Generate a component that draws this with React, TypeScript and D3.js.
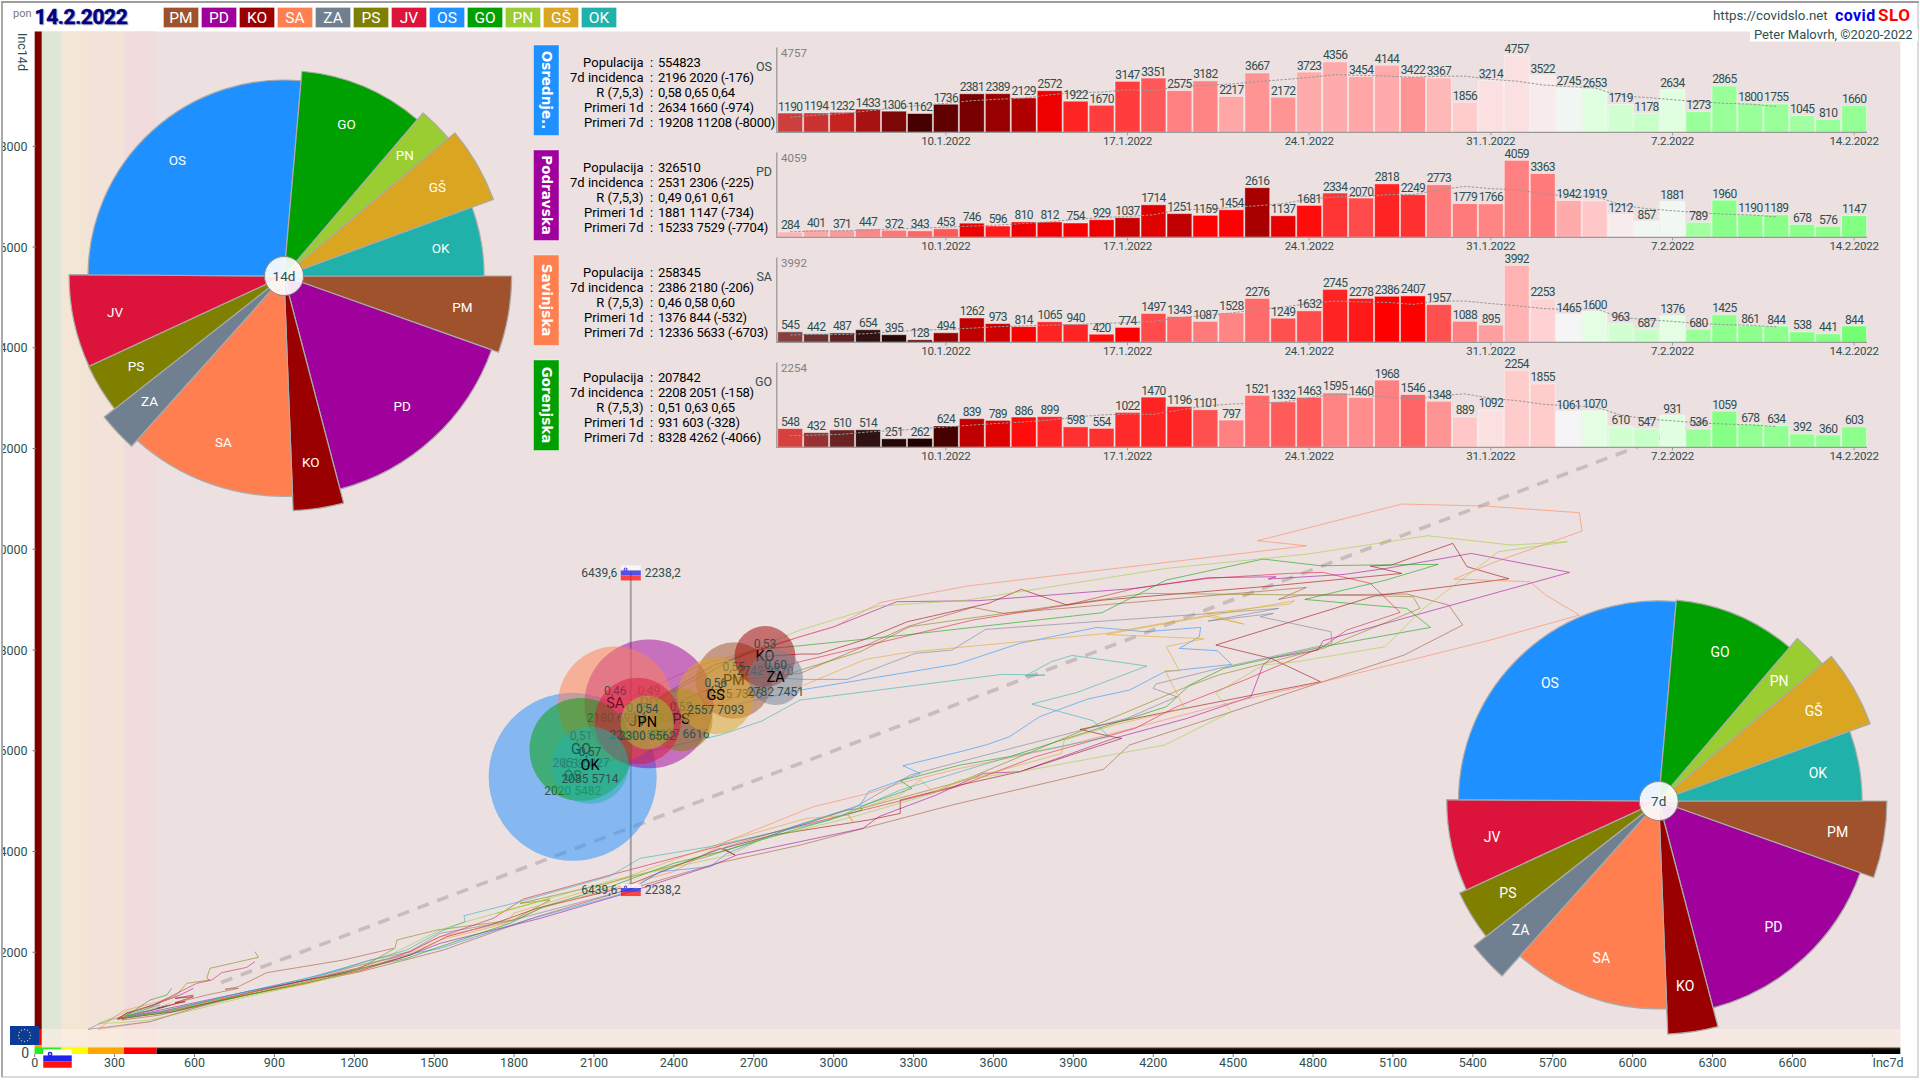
import React from "react";
import * as d3 from "d3";

const codes = ["PM", "PD", "KO", "SA", "ZA", "PS", "JV", "OS", "GO", "PN", "GŠ", "OK"];
const colors = ["#a0522d", "#a0009b", "#9b0000", "#ff7f50", "#708090", "#808000", "#dc143c", "#1e90ff", "#00a000", "#9acd32", "#daa520", "#20b2aa"];
const population = [114800, 326510, 73200, 258345, 59000, 77900, 147600, 554823, 207842, 56200, 116500, 117700];
const inc7 = [2625, 2306, 2742, 2180, 2782, 2427, 2264, 2020, 2051, 2300, 2557, 2085];
const inc14 = [7395, 6930, 7870, 6930, 7451, 6616, 6590, 5482, 6027, 6562, 7093, 5714];
const rValues = ["0,55", "0,49", "0,53", "0,46", "0,60", "0,52", "0,55", "0,58", "0,51", "0,54", "0,56", "0,57"];
const bubbleOrder = ["OS", "PD", "SA", "GO", "PS", "JV", "OK", "PM", "GŠ", "KO", "ZA", "PN"];

const xTicks = [0, 300, 600, 900, 1200, 1500, 1800, 2100, 2400, 2700, 3000, 3300, 3600, 3900, 4200, 4500, 4800, 5100, 5400, 5700, 6000, 6300, 6600];
const yTicks = [0, 2000, 4000, 6000, 8000, 10000, 12000, 14000, 16000, 18000];
const xBands = [0, 26, 100, 200, 335, 458];
const xBandTints = ["#dfe6d6", "#f3e6d4", "#f2e2d7", "#f0dcdc"];
const xStrip = ["#22ee22", "#ffff00", "#ffa500", "#ff0000", "#000000"];
const yStripBreaks = [0, 60, 160, 476, 20000];
const yStrip = ["#33ee00", "#ffa500", "#ff0000", "#800000"];

const panelNames = ["Osrednje..", "Podravska", "Savinjska", "Gorenjska"];
const panelCodes = ["OS", "PD", "SA", "GO"];
const panelColors = ["#1e90ff", "#a0009b", "#ff7f50", "#00a000"];
const infoLabels = ["Populacija", "7d incidenca", "R (7,5,3)", "Primeri 1d", "Primeri 7d"];
const infoOS = ["554823", "2196 2020 (-176)", "0,58 0,65 0,64", "2634 1660 (-974)", "19208 11208 (-8000)"];
const infoPD = ["326510", "2531 2306 (-225)", "0,49 0,61 0,61", "1881 1147 (-734)", "15233 7529 (-7704)"];
const infoSA = ["258345", "2386 2180 (-206)", "0,46 0,58 0,60", "1376 844 (-532)", "12336 5633 (-6703)"];
const infoGO = ["207842", "2208 2051 (-158)", "0,51 0,63 0,65", "931 603 (-328)", "8328 4262 (-4066)"];

const casesOS = [1190, 1194, 1232, 1433, 1306, 1162, 1736, 2381, 2389, 2129, 2572, 1922, 1670, 3147, 3351, 2575, 3182, 2217, 3667, 2172, 3723, 4356, 3454, 4144, 3422, 3367, 1856, 3214, 4757, 3522, 2745, 2653, 1719, 1178, 2634, 1273, 2865, 1800, 1755, 1045, 810, 1660];
const casesPD = [284, 401, 371, 447, 372, 343, 453, 746, 596, 810, 812, 754, 929, 1037, 1714, 1251, 1159, 1454, 2616, 1137, 1681, 2334, 2070, 2818, 2249, 2773, 1779, 1766, 4059, 3363, 1942, 1919, 1212, 857, 1881, 789, 1960, 1190, 1189, 678, 576, 1147];
const casesSA = [545, 442, 487, 654, 395, 128, 494, 1262, 973, 814, 1065, 940, 420, 774, 1497, 1343, 1087, 1528, 2276, 1249, 1632, 2745, 2278, 2386, 2407, 1957, 1088, 895, 3992, 2253, 1465, 1600, 963, 687, 1376, 680, 1425, 861, 844, 538, 441, 844];
const casesGO = [548, 432, 510, 514, 251, 262, 624, 839, 789, 886, 899, 598, 554, 1022, 1470, 1196, 1101, 797, 1521, 1332, 1463, 1595, 1460, 1968, 1546, 1348, 889, 1092, 2254, 1855, 1061, 1070, 610, 547, 931, 536, 1059, 678, 634, 392, 360, 603];
const priorOS = [380, 480, 580];
const priorPD = [160, 190, 212];
const priorSA = [150, 170, 200];
const priorGO = [110, 120, 146];

const growthOS = [2.4, 2.4, 2.4, 2.6, 2.85, 3.2, 3.0, 2.85, 2.65, 2.5, 2.1, 1.85, 1.75, 1.75, 1.65, 1.5, 1.48, 1.35, 1.42, 1.42, 1.33, 1.33, 1.35, 1.33, 1.42, 1.28, 1.2, 1.1, 1.1, 1.05, 0.98, 0.85, 0.82, 0.8, 0.85, 0.7, 0.7, 0.7, 0.7, 0.72, 0.7, 0.68];
const growthPD = [1.35, 1.4, 1.45, 1.5, 1.55, 1.6, 1.65, 2.1, 1.9, 2.1, 2.1, 2.05, 2.1, 2.35, 2.2, 2.4, 2.0, 2.0, 2.55, 2.15, 1.95, 1.78, 1.7, 1.85, 1.8, 1.52, 1.52, 1.48, 1.5, 1.52, 1.33, 1.22, 1.05, 0.98, 0.97, 0.72, 0.64, 0.64, 0.64, 0.64, 0.64, 0.6];
const growthSA = [3.0, 3.2, 3.2, 3.5, 3.6, 3.0, 2.65, 2.4, 2.3, 2.05, 1.85, 1.85, 1.95, 2.0, 1.7, 1.6, 1.52, 1.48, 1.58, 1.68, 1.7, 1.85, 1.9, 2.0, 2.0, 1.68, 1.5, 1.38, 1.3, 1.17, 1.0, 0.87, 0.82, 0.79, 0.87, 0.7, 0.65, 0.65, 0.65, 0.62, 0.62, 0.55];
const growthGO = [2.3, 2.8, 3.1, 3.5, 3.6, 3.6, 3.2, 2.4, 2.2, 1.95, 1.85, 1.8, 1.8, 1.82, 1.85, 1.85, 1.68, 1.5, 1.58, 1.64, 1.64, 1.48, 1.45, 1.5, 1.6, 1.42, 1.22, 1.1, 1.2, 1.2, 1.0, 0.87, 0.82, 0.8, 0.85, 0.7, 0.62, 0.67, 0.67, 0.67, 0.67, 0.65];
const growthDomain = [0.5, 0.7, 0.85, 1, 1.2, 1.5, 1.8, 2, 2.5, 3, 3.5];
const growthRange = ["#66ff66", "#99ff99", "#e0ffe0", "#f5f5f5", "#ffcccc", "#ff8080", "#ff3030", "#ff0000", "#b00000", "#600000", "#200000"];
const startFade = [0.72, 0.78, 0.85, 0.92, 0.97];
const dateTicks = [[6, "10.1.2022"], [13, "17.1.2022"], [20, "24.1.2022"], [27, "31.1.2022"], [34, "7.2.2022"], [41, "14.2.2022"]] as const;

const trackPM = [[1347,2078],[1159,1846],[871,1594],[765,1317],[715,1264],[765,1283],[646,1151],[571,1052],[471,886],[358,754],[327,655],[471,754],[796,1151],[1009,1383],[1222,1614],[1535,2044],[1885,2706],[2561,3765],[2874,4128],[3444,4922],[4013,5630],[4111,6114],[4494,6775],[5142,7900],[5362,8496],[5309,8893],[5152,9111],[4759,9091],[4671,9005],[4775,9243],[4151,8959],[3640,8727],[3522,8846],[3277,8463],[3110,8065],[2874,7536],[2625,7395]];
const trackPD = [[596,1283],[546,1151],[446,953],[345,787],[308,668],[471,853],[796,1217],[1021,1449],[1209,1647],[1410,1945],[1522,2177],[1898,2673],[2198,3136],[2549,3732],[2636,3930],[3110,4459],[3169,4691],[3385,5121],[3561,5551],[3699,5584],[4052,6246],[4327,6643],[4567,7073],[4612,7702],[4642,7834],[4818,8000],[4838,8185],[5763,9541],[5394,9918],[5074,9620],[4917,9501],[4632,9409],[4661,9455],[4406,9435],[4131,9223],[3542,8979],[3237,8959],[3002,8463],[2874,8264],[2550,7700],[2306,6930]];
const trackKO = [[596,1151],[527,1085],[596,1118],[527,999],[565,1019],[458,886],[496,933],[439,853],[345,734],[327,688],[521,820],[796,1184],[1021,1449],[1209,1614],[1410,1945],[1547,2309],[1710,2541],[1885,2871],[2198,3269],[2574,4063],[2630,3930],[2586,4063],[2774,4327],[3131,4625],[3250,4757],[3250,5022],[3475,5320],[3699,5584],[4082,6246],[4033,6292],[3925,6424],[4288,6808],[4828,7371],[4642,7834],[4435,8099],[5034,9078],[5535,9415],[5378,9654],[5325,10117],[5093,9687],[5015,9667],[5133,9521],[4642,9270],[4013,8992],[3876,8893],[3705,9204],[3581,8926],[3277,8562],[3110,8198],[2943,7920],[2874,7920],[2742,7870]];
const trackSA = [[533,1118],[433,972],[333,840],[283,655],[239,470],[433,622],[596,886],[796,1151],[1021,1383],[1209,1614],[1347,1879],[1522,2309],[1785,2607],[1898,2871],[2398,3599],[2611,4228],[2924,4890],[3131,5154],[3247,5353],[3475,5651],[3856,6080],[4504,6974],[4838,7371],[5466,8198],[5800,8694],[5673,9091],[5614,9356],[5329,9409],[5486,9753],[5810,10362],[5800,10726],[5447,10858],[5133,10898],[4592,10170],[4775,10070],[3502,9270],[3178,8946],[3002,8463],[2874,8264],[2500,7700],[2180,6930]];
const trackZA = [[471,953],[383,820],[283,655],[233,556],[201,470],[433,622],[596,886],[796,1184],[1021,1449],[1259,1846],[1410,2011],[1522,2375],[1772,2607],[2248,3269],[2348,3599],[2599,4096],[3074,4857],[3287,5518],[3475,5783],[4101,6643],[4288,7073],[4200,7238],[4210,7324],[4445,7635],[4871,8132],[4867,8363],[4602,8661],[4651,8727],[4406,8575],[4671,8826],[4367,8707],[3571,8410],[3444,7999],[3306,7933],[3051,7417],[2874,7417],[2782,7451]];
const trackPS = [[827,2011],[840,1899],[658,1681],[646,1482],[658,1449],[571,1383],[533,1151],[446,953],[345,787],[314,668],[471,800],[796,1151],[1021,1383],[1209,1647],[1353,2078],[1360,2243],[1510,2441],[1797,2640],[1935,3037],[1822,2971],[2148,3368],[2524,3897],[3049,4823],[3106,4857],[3475,5386],[4327,7272],[4445,7503],[4838,8032],[5201,8826],[5176,9058],[5034,9078],[4170,9124],[3640,8727],[3286,8463],[3100,7966],[2874,7602],[2427,6616]];
const trackJV = [[827,1813],[796,1700],[702,1594],[665,1449],[608,1383],[521,1151],[446,953],[345,787],[314,688],[471,820],[796,1184],[1021,1449],[1209,1681],[1410,2011],[1522,2309],[1722,2673],[1835,3057],[2161,3533],[2586,4129],[3112,4823],[3463,5286],[3758,5882],[4131,6444],[4288,6874],[4543,7404],[4838,8066],[4926,8396],[5127,8747],[5015,9323],[4838,9541],[4710,9521],[4406,9422],[4131,9223],[3876,8893],[3522,8595],[2874,7768],[2600,7400],[2264,6590]];
const trackOS = [[508,953],[396,787],[339,701],[471,807],[796,1217],[1021,1482],[1222,1747],[1410,1965],[1522,2077],[1848,2640],[2211,3169],[2348,3599],[2536,3699],[2599,3963],[2849,4493],[3100,4923],[3131,5187],[3325,5551],[3260,5703],[3475,5981],[3571,6114],[3660,6279],[3773,6676],[3954,7027],[4111,7205],[4243,7569],[4494,7715],[4441,7986],[4298,8032],[4373,8264],[4378,8449],[4170,8363],[3988,8449],[3699,8132],[3463,7721],[2874,7205],[2700,7000],[2450,6650],[2250,6000],[2020,5482]];
const trackGO = [[514,1283],[496,1151],[433,1052],[358,787],[333,708],[471,787],[796,1151],[1021,1416],[1222,1681],[1397,1879],[1522,2110],[1785,2574],[1910,2905],[2161,3302],[2398,3765],[2599,4029],[3106,4823],[3100,4890],[3294,5254],[3250,5406],[3475,5717],[3660,5882],[4249,6874],[4337,7305],[4465,7635],[4838,8066],[5241,8449],[5152,8826],[4769,9005],[5074,9389],[5270,9700],[5015,9687],[4828,9673],[4612,9806],[4249,9389],[4007,8740],[3267,8297],[2874,8085],[2700,8000],[2600,7750],[2300,6900],[2051,6027]];
const trackPN = [[446,920],[345,820],[295,708],[239,589],[320,602],[433,655],[596,853],[796,1118],[1021,1370],[1209,1614],[1522,2441],[1597,2574],[1935,3070],[1735,2772],[2173,3434],[2611,3930],[2724,4228],[3074,4691],[3375,5154],[3475,5419],[3699,5584],[4243,6114],[4494,6775],[4435,7139],[4612,7702],[4740,7768],[5070,8066],[5207,8793],[5496,9951],[5755,10150],[5545,10084],[5231,10269],[4779,9905],[4249,9620],[3502,8992],[3169,8873],[2874,8396],[2600,7800],[2300,6562]];
const trackGS = [[508,986],[408,820],[333,708],[471,800],[796,1184],[1021,1416],[1197,1714],[1397,1945],[1522,2243],[1772,2574],[1797,2772],[2123,3302],[2398,3831],[2611,4228],[2899,4658],[3056,4724],[3072,4592],[3049,4757],[3250,5121],[3325,5419],[3375,5187],[3475,5386],[3856,5948],[3866,6213],[4052,6510],[4318,6841],[4245,7589],[4298,7589],[4249,8066],[4390,8224],[4023,8310],[4730,8979],[4710,8913],[4396,8727],[4540,8515],[4396,8681],[4023,8330],[3277,7953],[3119,7814],[2874,7271],[2557,7093]];
const trackOK = [[471,986],[396,820],[345,721],[471,820],[796,1217],[1021,1482],[1222,1780],[1397,2044],[1522,2408],[1616,2607],[1612,2726],[1797,2971],[2161,3513],[2273,3864],[2536,4096],[2987,4625],[3250,5220],[3475,5584],[3660,5882],[4033,6279],[3974,6597],[3744,6927],[3915,7159],[4176,7682],[3895,7893],[3817,7768],[3719,7483],[3793,7503],[3630,7516],[2874,7007],[2730,6590],[2574,6313],[2085,5714]];

const meanInc7 = 2238.2;
const meanLabelA = "6439,6";
const meanLabelB = "2238,2";
const flagTopInc14 = 9530;
const flagBottomInc14 = 3235;
const diagonalEnds = [700, 6300];
const diagonalSlope = 2;
const euStarCount = d3.range(12);

const FONT = "Roboto, sans-serif";
const INK = "#2f4f4f";

const x = d3.scaleLinear().domain([0, 7005]).range([34.7, 1900.3]);
const y = d3.scaleLinear().domain([0, 18000]).range([1053, 146.3]);
const rBubble = d3.scaleSqrt().domain([0, 554823]).range([0, 84]);
const r14 = d3.scaleSqrt().domain([0, 7451]).range([0, 228.5]);
const r7 = d3.scaleSqrt().domain([0, 2020]).range([0, 200.2]);
const heat = d3.scaleLinear<string>().domain(growthDomain).range(growthRange).clamp(true);

const tracks = [trackPM, trackPD, trackKO, trackSA, trackZA, trackPS, trackJV, trackOS, trackGO, trackPN, trackGS, trackOK];
const trackLine = d3.line<number[]>().x((d) => x(d[0])).y((d) => y(d[1]));

function Pie({ cx, cy, values, rScale, label, labelSize }: any) {
  const slices = d3.pie<number>().sort(null).startAngle(Math.PI / 2).endAngle(Math.PI * 2.5)(population);
  return (
    <g transform={`translate(${cx},${cy})`}>
      {slices.map((s, i) => {
        const R = rScale(values[i]);
        const arc = d3.arc<any>().innerRadius(0).outerRadius(R);
        const mid = (s.startAngle + s.endAngle) / 2;
        return (
          <g key={i}>
            <path d={arc(s) as string} fill={colors[i]} stroke="#aaaaaa" strokeWidth={1.2} strokeLinejoin="round" />
            <text x={Math.sin(mid) * R * 0.8 - 1} y={-Math.cos(mid) * R * 0.8} textAnchor="middle" dominantBaseline="central" fill="#fff" fontSize={labelSize} fontFamily={FONT}>
              {codes[i]}
            </text>
          </g>
        );
      })}
      <circle r={19.5} fill="#fff" fillOpacity={0.9} stroke="#888" strokeWidth={1} />
      <text textAnchor="middle" dominantBaseline="central" fill={INK} fontSize={13.5} fontFamily={FONT}>{label}</text>
    </g>
  );
}

function SloFlag({ cx, cy, w, h, alpha }: any) {
  return (
    <g opacity={alpha}>
      <rect x={cx - w / 2} y={cy - h / 2} width={w} height={h / 3} fill="#ffffff" />
      <rect x={cx - w / 2} y={cy - h / 6} width={w} height={h / 3} fill="#2222ee" />
      <rect x={cx - w / 2} y={cy + h / 6} width={w} height={h / 3} fill="#ff1111" />
      <circle cx={cx - w * 0.26} cy={cy - h * 0.24} r={h * 0.13} fill="#2222ee" />
      <circle cx={cx - w * 0.26} cy={cy - h * 0.24} r={h * 0.05} fill="#fff" />
    </g>
  );
}

function Panel({ index, name, code, color, info, cases, prior, growth }: any) {
  const top = 45 + index * 105;
  const base = top + 87.3;
  const bar = d3.scaleBand<number>().domain(d3.range(cases.length)).range([777.2, 777.2 + 25.95 * cases.length]).paddingInner(0.04).paddingOuter(0.02);
  const h = d3.scaleLinear().domain([0, d3.max(cases) as number]).range([base, base - 77]);
  const series = [...prior, ...cases];
  const trend = d3.range(0, 39).map((i) => [i, d3.mean(series.slice(i, i + 7)) as number]);
  const tl = d3.line<number[]>().x((d) => (bar(d[0]) as number) + bar.bandwidth() / 2).y((d) => h(d[1]));
  return (
    <g fontFamily={FONT}>
      <rect x={533.5} y={top} width={25.5} height={90.5} fill={color} stroke="#fff" strokeOpacity={0.4} />
      <text transform={`translate(546.5,${top + 45}) rotate(90)`} textAnchor="middle" dominantBaseline="central" fill="#fff" fontFamily="'DejaVu Sans', sans-serif" fontWeight="bold" fontSize={13.5}>
        {name}
      </text>
      {infoLabels.map((l, i) => (
        <g key={l} fontSize={13} fill="#000">
          <text x={643.5} y={top + 17.7 + i * 15} textAnchor="end" dominantBaseline="central">{l}</text>
          <text x={651.5} y={top + 17.7 + i * 15} textAnchor="middle" dominantBaseline="central">:</text>
          <text x={658} y={top + 17.7 + i * 15} dominantBaseline="central" letterSpacing={-0.22}>{info[i]}</text>
        </g>
      ))}
      <text x={772} y={top + 21} textAnchor="end" dominantBaseline="central" fill={INK} fontSize={12.5}>{code}</text>
      <text x={781} y={top + 8} dominantBaseline="central" fill="#808080" fontSize={11.5}>{d3.max(cases) as number}</text>
      {cases.map((v: number, i: number) => (
        <rect key={i} x={bar(i)} y={h(v)} width={bar.bandwidth()} height={base - h(v)} fill={heat(growth[i])} fillOpacity={i < startFade.length ? startFade[i] : 1} stroke="#fff" strokeOpacity={0.45} strokeWidth={1} />
      ))}
      <path d={tl(trend) as string} fill="none" stroke="#999" strokeWidth={1} strokeDasharray="2.5 1.5" />
      {cases.map((v: number, i: number) => (
        <text key={i} x={(bar(i) as number) + bar.bandwidth() / 2} y={h(v) - 2.5} textAnchor="middle" fill={INK} fontSize={12} letterSpacing={-0.65}>{v}</text>
      ))}
      <path d={`M776.8,${top + 2.5}V${base}H1867`} fill="none" stroke="#999" strokeWidth={1.3} />
      {dateTicks.map(([i, t]) => {
        const tx = (bar(i) as number) + bar.bandwidth() / 2;
        return (
          <g key={t}>
            <line x1={tx} x2={tx} y1={base} y2={base + 3} stroke="#999" />
            <text x={tx} y={base + 8.5} textAnchor="middle" dominantBaseline="central" fill={INK} fontSize={11.5} letterSpacing={-0.25}>{t}</text>
          </g>
        );
      })}
    </g>
  );
}

export default function App() {
  const order = bubbleOrder.map((c) => codes.indexOf(c));
  const xm = x(meanInc7);
  const yTop = y(flagTopInc14);
  const yBot = y(flagBottomInc14);
  const plotTop = 31.5;
  return (
    <svg width={1920} height={1080} viewBox="0 0 1920 1080" style={{ position: "fixed", left: 0, top: 0, background: "#fff" }}>
      <defs>
        <clipPath id="ylab"><rect x={3} y={0} width={40} height={1080} /></clipPath>
        <linearGradient id="blackStrip" x1="0" x2="0" y1="0" y2="1">
          <stop offset="0" stopColor="#4a3c28" />
          <stop offset="0.4" stopColor="#000" />
        </linearGradient>
      </defs>
      <rect x={2} y={2} width={1916} height={1075} fill="#fff" stroke="#cfcfcf" strokeWidth={1.5} />
      <line x1={1} x2={1919} y1={2} y2={2} stroke="#888" strokeWidth={1.5} />
      <line x1={2} x2={2} y1={2} y2={1077} stroke="#999" strokeWidth={1.5} />

      {/* plot background */}
      <rect x={x(0)} y={plotTop} width={x(7005) - x(0)} height={1047.5 - plotTop} fill="#ece0e0" />
      {xBandTints.map((c, i) => (
        <rect key={i} x={x(xBands[i + 1])} y={plotTop} width={x(xBands[i + 2]) - x(xBands[i + 1])} height={1047.5 - plotTop} fill={c} />
      ))}
      <rect x={x(26)} y={y(476)} width={x(7005) - x(26)} height={1046.8 - y(476)} fill="#fff0e6" fillOpacity={0.55} />
      <line x1={x(0)} x2={x(7005)} y1={1046.9} y2={1046.9} stroke="#f6e6c8" strokeWidth={1} />
      {yStrip.map((c, i) => (
        <rect key={c} x={x(0)} width={7} y={i === 3 ? plotTop : y(yStripBreaks[i + 1])} height={i === 3 ? y(yStripBreaks[3]) - plotTop : y(yStripBreaks[i]) - y(yStripBreaks[i + 1])} fill={c} />
      ))}
      {xStrip.map((c, i) => {
        const a = i === 0 ? 0 : xBands[i + 1];
        const b = i === 4 ? 7005 : xBands[i + 2];
        return <rect key={c} x={x(a)} y={1047.5} width={x(b) - x(a)} height={6.5} fill={i === 4 ? "url(#blackStrip)" : c} />;
      })}

      {/* axes */}
      <g fontFamily={FONT} fill={INK} fontSize={12.5}>
        {xTicks.map((t) => (
          <g key={t}>
            <line x1={x(t)} x2={x(t)} y1={1054} y2={1057} stroke="#777" />
            <text x={x(t)} y={1062.5} textAnchor="middle" dominantBaseline="central">{t}</text>
          </g>
        ))}
        <line x1={x(6900)} x2={x(6900)} y1={1054} y2={1057} stroke="#777" />
        <text x={1888} y={1062.5} textAnchor="middle" dominantBaseline="central">Inc7d</text>
        <g clipPath="url(#ylab)">
          {yTicks.map((t) => (
            <text key={t} x={t === 0 ? 29 : 27.5} y={y(t)} textAnchor="end" dominantBaseline="central" fontSize={t === 0 ? 14 : 12.5}>{t}</text>
          ))}
        </g>
        {yTicks.slice(1).map((t) => (
          <line key={t} x1={32.5} x2={36} y1={y(t)} y2={y(t)} stroke="#777" />
        ))}
        <text transform="translate(22.5,33) rotate(90)" dominantBaseline="central">Inc14d</text>
      </g>

      {/* diagonal + trajectories */}
      <line x1={x(diagonalEnds[0])} y1={y(diagonalEnds[0] * diagonalSlope)} x2={x(diagonalEnds[1])} y2={y(diagonalEnds[1] * diagonalSlope)} stroke="#c8bcbc" strokeWidth={3.6} strokeDasharray="12 9" />
      {tracks.map((t, i) => (
        <path key={i} d={trackLine(t as number[][]) as string} fill="none" stroke={colors[i]} strokeOpacity={0.55} strokeWidth={1} />
      ))}

      {/* mean marker */}
      <line x1={xm} x2={xm} y1={yTop} y2={yBot} stroke="#777" strokeOpacity={0.6} strokeWidth={2} />

      {/* bubbles */}
      {order.map((i) => {
        const cx = x(inc7[i]);
        const cy = y(inc14[i]);
        return (
          <g key={i} fontFamily={FONT}>
            <circle cx={cx} cy={cy} r={rBubble(population[i])} fill={colors[i]} fillOpacity={0.5} />
            <text x={cx} y={cy - 13} textAnchor="middle" dominantBaseline="central" fill={INK} fontSize={12}>{rValues[i]}</text>
            <text x={cx} y={cy} textAnchor="middle" dominantBaseline="central" fill="#000" fontSize={14.5}>{codes[i]}</text>
            <text x={cx} y={cy + 14} textAnchor="middle" dominantBaseline="central" fill={INK} fontSize={12}>{inc7[i]} {inc14[i]}</text>
          </g>
        );
      })}

      {/* mean flags */}
      {[yTop, yBot].map((fy, i) => (
        <g key={i} fontFamily={FONT} fontSize={12} fill={INK}>
          <SloFlag cx={xm} cy={fy} w={20} h={i === 0 ? 15 : 12} alpha={0.75} />
          <text x={xm - 13.5} y={fy} textAnchor="end" dominantBaseline="central">{meanLabelA}</text>
          <text x={xm + 14} y={fy} dominantBaseline="central">{meanLabelB}</text>
        </g>
      ))}

      <Panel index={0} name={panelNames[0]} code={panelCodes[0]} color={panelColors[0]} info={infoOS} cases={casesOS} prior={priorOS} growth={growthOS} />
      <Panel index={1} name={panelNames[1]} code={panelCodes[1]} color={panelColors[1]} info={infoPD} cases={casesPD} prior={priorPD} growth={growthPD} />
      <Panel index={2} name={panelNames[2]} code={panelCodes[2]} color={panelColors[2]} info={infoSA} cases={casesSA} prior={priorSA} growth={growthSA} />
      <Panel index={3} name={panelNames[3]} code={panelCodes[3]} color={panelColors[3]} info={infoGO} cases={casesGO} prior={priorGO} growth={growthGO} />

      <Pie cx={284} cy={276} values={inc14} rScale={r14} label="14d" labelSize={13.5} />
      <Pie cx={1658.7} cy={801} values={inc7} rScale={r7} label="7d" labelSize={14} />

      {/* header */}
      <text x={13} y={13} dominantBaseline="central" fontFamily={FONT} fontSize={11} fill="#777">pon</text>
      <text x={35.6} y={18.2} dominantBaseline="central" fontFamily={FONT} fontWeight="bold" fontSize={21} letterSpacing={-0.4} fill="#b8b8c8" stroke="#b8b8c8" strokeWidth={0.5}>14.2.2022</text>
      <text x={34.5} y={17} dominantBaseline="central" fontFamily={FONT} fontWeight="bold" fontSize={21} letterSpacing={-0.4} fill="#000080" stroke="#000080" strokeWidth={0.5}>14.2.2022</text>
      {codes.map((c, i) => (
        <g key={c} fontFamily={FONT}>
          <rect x={163.5 + i * 38} y={7.5} width={35} height={20} fill={colors[i]} stroke="#fff" strokeOpacity={0.3} />
          <text x={181 + i * 38} y={17.7} textAnchor="middle" dominantBaseline="central" fill="#fff" fontSize={15.5}>{c}</text>
        </g>
      ))}
      <text x={1713} y={15.5} dominantBaseline="central" fontFamily={FONT} fontSize={13.3} fill={INK}>https://covidslo.net</text>
      <text x={1835} y={15} dominantBaseline="central" fontFamily={FONT} fontWeight="bold" fontSize={16} letterSpacing={0.4} fill="#0000ee">covid</text>
      <text x={1878} y={15} dominantBaseline="central" fontFamily={FONT} fontWeight="bold" fontSize={17} letterSpacing={0.6} fill="#ff0000">SLO</text>
      <rect x={1750} y={29} width={168} height={12.5} fill="#fff" />
      <text x={1754} y={34.5} dominantBaseline="central" fontFamily={FONT} fontSize={13} fill={INK}>Peter Malovrh, ©2020-2022</text>

      {/* EU flag */}
      <rect x={10} y={1026} width={29} height={19} fill="#0a3c96" />
      {euStarCount.map((k) => (
        <circle key={k} cx={24.5 + 6 * Math.cos((k * Math.PI) / 6)} cy={1035.5 + 6 * Math.sin((k * Math.PI) / 6)} r={0.7} fill="#d8c040" />
      ))}
      <SloFlag cx={57.5} cy={1058.5} w={28.5} h={18.5} alpha={1} />
    </svg>
  );
}
